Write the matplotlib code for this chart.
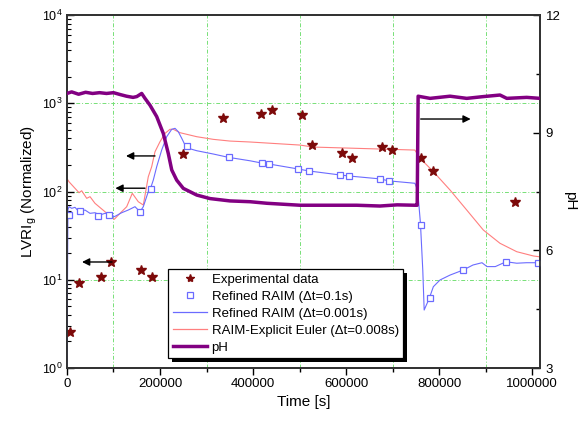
import matplotlib
matplotlib.use('Agg')
import matplotlib.pyplot as plt
from matplotlib.patches import Rectangle
from matplotlib.lines import Line2D
from matplotlib.ticker import FixedLocator, LogLocator, NullFormatter

plt.rcParams['font.family'] = ['Liberation Sans', 'DejaVu Sans']
plt.rcParams['mathtext.fontset'] = 'custom'
plt.rcParams['mathtext.rm'] = 'Liberation Sans'
plt.rcParams['mathtext.it'] = 'Liberation Sans:italic'
plt.rcParams['mathtext.bf'] = 'Liberation Sans:bold'

# ---------------- data ----------------
exp_t = [6500, 25800, 73100, 94600, 159000, 182800, 250100, 336000, 417000, 440800,
         505000, 527000, 591000, 613000, 677000, 699000, 760500, 787700, 963400]
exp_v = [2.56, 9.2, 10.7, 15.9, 12.9, 10.7, 266, 675, 755, 838,
         736, 336, 273, 240, 319, 296, 238, 170, 75.4]

sq_t = [4300, 28000, 67300, 91000, 157000, 180000, 257400, 348400, 419000, 434400,
        497000, 520000, 587000, 606000, 673000, 692000, 761000, 780000, 852000,
        944000, 1013000]
sq_v = [54.2, 60.6, 52.8, 54.2, 59.0, 106, 328, 244, 210, 205,
        180, 171, 154, 150, 139, 131, 41.7, 6.16, 12.9, 16.0, 15.6]

blue_t = [0, 2000, 4300, 10100, 17200, 25800, 38700, 49500, 60200, 71000, 81700,
          92500, 101700, 117600, 131800, 146200, 157000, 164100, 174800, 178500,
          185600, 192900, 203600, 214400, 225200, 232300, 239300, 246700, 253800,
          260900, 278900, 314600, 346900, 393500, 419000, 434400, 497000, 520000,
          587000, 606000, 673000, 692000, 748000, 754000, 760000, 765000, 768000,
          779000, 787700, 802000, 823600, 852000, 873000, 892300, 903000, 921000,
          944000, 967000, 988000, 1013000, 1020000]
blue_v = [1.0, 62, 67.3, 64.5, 66.2, 59.0, 61.7, 56.6, 57.5, 54.2, 56.6,
          55.6, 51.8, 57.5, 61.7, 67.3, 59.0, 67.3, 99.5, 104,
          135, 191, 295, 418, 507, 520, 476, 401, 336,
          309, 290, 266, 244, 223, 210, 205, 180, 171,
          154, 150, 139, 132, 124, 104, 43.6, 12.9, 4.54,
          6.16, 8.34, 9.94, 11.3, 12.9, 14.7, 15.6, 14.1, 14.1,
          16.0, 15.4, 15.6, 15.6, 15.6]

red_t = [2000, 4300, 25800, 31600, 42400, 49500, 60200, 81700, 101700, 114000,
         128400, 140400, 153300, 164100, 174800, 182100, 189200, 200000, 210800,
         221500, 228600, 243000, 278900, 314600, 350500, 393500, 501000, 529000,
         748000, 759000, 773500, 787700, 823600, 859500, 895200, 931000, 967000,
         1002800, 1020000]
red_v = [135, 129, 97, 102, 83.7, 87.4, 73.5, 59.0, 48.4, 56.6,
         67.3, 95.4, 76.6, 70.3, 147, 191, 282, 367, 456,
         507, 507, 464, 418, 390, 373, 364, 336, 319,
         295, 238, 200, 168, 104, 61.7, 36.6, 25.9, 20.8,
         18.6, 18.1]

ph_t = [0, 10000, 25000, 40000, 55000, 70000, 85000, 100000, 115000, 128000,
        142000, 150000, 160600, 167700, 178500, 192900, 207100, 217800, 225200,
        235900, 250100, 278900, 307500, 350500, 393500, 430000, 501000, 529000,
        623000, 673000, 710000, 748000, 753000, 755000, 780600, 823600, 859500,
        895200, 931000, 945600, 988600, 1017000]
ph_v = [10.0, 10.04, 9.98, 10.03, 10.0, 10.02, 10.0, 10.02, 9.97, 9.93,
        9.9, 9.92, 10.0, 9.875, 9.70, 9.41, 8.98, 8.47, 8.05,
        7.79, 7.58, 7.41, 7.32, 7.26, 7.24, 7.20, 7.15, 7.15,
        7.15, 7.13, 7.16, 7.15, 7.15, 9.93, 9.875, 9.93, 9.875,
        9.92, 9.96, 9.875, 9.90, 9.875]

# arrows: (tail_t, tail_v, head_t, head_v) on left axis
arrows = [(189200, 253, 126900, 253),
          (167700, 109, 104000, 109),
          (96800, 15.9, 32300, 15.9),
          (760500, 663, 868000, 663)]

labels = ['Experimental data', 'Refined RAIM (\u0394t=0.1s)',
          'Refined RAIM (\u0394t=0.001s)', 'RAIM-Explicit Euler (\u0394t=0.008s)', 'pH']

x_major = [0, 200000, 400000, 600000, 800000, 1000000]
x_minor = [100000, 300000, 500000, 700000, 900000]
ph_major = [3, 6, 9, 12]
ph_minor = [4.5, 7.5, 10.5]

# ---------------- styles ----------------
c_star = '#7d0a0a'
c_blue = '#6b6bff'
c_red = '#ff7f7f'
c_ph = '#820082'
c_grid = '#77e077'

fig = plt.figure(figsize=(5.79, 4.23), dpi=100)
ax = fig.add_axes([0.1157, 0.13, 0.8169, 0.8345])
ax.set_yscale('log')
ax.set_xlim(0, 1.017e6)
ax.set_ylim(1, 1e4)

ax.xaxis.set_major_locator(FixedLocator(x_major))
ax.xaxis.set_minor_locator(FixedLocator(x_minor))
ax.set_xticklabels([str(v) for v in x_major])
ax.yaxis.set_major_locator(LogLocator(base=10, numticks=10))
ax.yaxis.set_minor_locator(LogLocator(base=10, subs=range(2, 10), numticks=20))
ax.yaxis.set_minor_formatter(NullFormatter())

gl = dict(color=c_grid, lw=0.7, linestyle=(0, (4, 2, 1, 2)))
ax.grid(which='minor', axis='x', **gl)
ax.grid(which='major', axis='y', **gl)
ax.set_axisbelow(True)

ax.plot(red_t, red_v, color=c_red, lw=0.8, zorder=2)
ax.plot(blue_t, blue_v, color=c_blue, lw=0.8, zorder=3)
ax.plot(sq_t, sq_v, ls='none', marker='s', ms=5, mfc='white', mec=c_blue, mew=0.9, zorder=4)
ax.plot(exp_t, exp_v, ls='none', marker='*', ms=7.5, color=c_star, zorder=5)

for (t0, v0, t1, v1) in arrows:
    ax.annotate('', xy=(t1, v1), xytext=(t0, v0),
                arrowprops=dict(arrowstyle='-|>', color='black', lw=1.0,
                                mutation_scale=11, shrinkA=0, shrinkB=0), zorder=6)

ax.tick_params(axis='x', which='major', direction='out', length=5, width=1, labelsize=9.5, pad=2)
ax.tick_params(axis='x', which='minor', direction='out', length=3, width=1)
ax.tick_params(axis='y', which='major', direction='in', length=5, width=1, labelsize=9, pad=3)
ax.tick_params(axis='y', which='minor', direction='in', length=3, width=0.8)

ax.set_xlabel('Time [s]', fontsize=11, labelpad=4)
ax.set_ylabel(r'LVRI$_{\mathrm{g}}$ (Normalized)', fontsize=11, labelpad=2)

ax2 = ax.twinx()
ax2.set_ylim(3, 12)
ax2.yaxis.set_major_locator(FixedLocator(ph_major))
ax2.yaxis.set_minor_locator(FixedLocator(ph_minor))
ax2.tick_params(axis='y', which='major', direction='in', length=5, width=1, labelsize=9.5, pad=4)
ax2.tick_params(axis='y', which='minor', direction='in', length=3, width=1)
ax2.plot(ph_t, ph_v, color=c_ph, lw=2.5, zorder=3)
ax2.set_ylabel('pH', fontsize=11, rotation=270, ha='center', va='center')
ax2.yaxis.set_label_coords(1.063, 0.473)

for a in (ax, ax2):
    for s in a.spines.values():
        s.set_color('#333333')
        s.set_linewidth(1.3)

handles = [Line2D([], [], ls='none', marker='*', ms=6, color=c_star),
           Line2D([], [], ls='none', marker='s', ms=4.5, mfc='white', mec=c_blue, mew=0.9),
           Line2D([], [], color=c_blue, lw=0.9),
           Line2D([], [], color=c_red, lw=0.9),
           Line2D([], [], color=c_ph, lw=2.5)]
leg = ax2.legend(handles, labels, loc='upper left', bbox_to_anchor=(0.2135, 0.2805),
                 borderaxespad=0, fontsize=9.5, frameon=True, fancybox=False,
                 framealpha=1, edgecolor='black', handlelength=2.6, handletextpad=0.35,
                 labelspacing=0.36, borderpad=0.35)
leg.get_frame().set_linewidth(0.9)
leg.set_zorder(10)

fig.canvas.draw()
bb = leg.get_window_extent(fig.canvas.get_renderer())
inv = ax2.transAxes.inverted()
(x0, y0) = inv.transform((bb.x0 + 4, bb.y0 - 4))
(x1, y1) = inv.transform((bb.x1 + 4, bb.y1 - 4))
shadow = Rectangle((x0, y0), x1 - x0, y1 - y0, transform=ax2.transAxes,
                   facecolor='black', edgecolor='none', zorder=9.9, clip_on=False)
ax2.add_patch(shadow)

fig.savefig('out.png', dpi=100)
